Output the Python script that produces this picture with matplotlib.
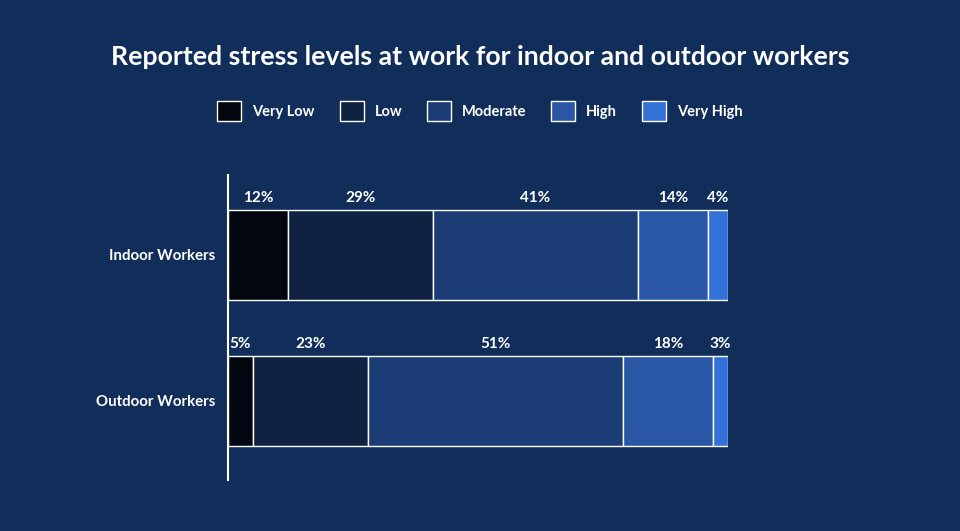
import matplotlib.pyplot as plt
from matplotlib.patches import Patch

# data
groups = ["Indoor Workers", "Outdoor Workers"]
levels = ["Very Low", "Low", "Moderate", "High", "Very High"]
indoor = [12, 29, 41, 14, 4]
outdoor = [5, 23, 51, 18, 3]
colors = ["#02060f", "#0f2242", "#1b3c74", "#2957a6", "#3271d8"]
bg = "#112e5b"

plt.rcParams["font.family"] = ["Lato", "DejaVu Sans"]

fig = plt.figure(figsize=(9.6, 5.31), dpi=100, facecolor=bg)
ax = fig.add_axes([228 / 960, 1 - 480 / 531, 500 / 960, 305 / 531])
ax.set_facecolor(bg)

ypos = [1, 0]
values = [indoor, outdoor]
for y, vals in zip(ypos, values):
    left = 0
    for v, c in zip(vals, colors):
        ax.barh(y, v, left=left, height=90 / 146, color=c, edgecolor="white", linewidth=1)
        ax.text(left + v / 2, y + 0.39, f"{v}%", ha="center", va="center",
                color="white", fontsize=11, fontweight="bold")
        left += v

ax.set_xlim(0, 100)
ax.set_ylim(-79 / 146, 1 + 80 / 146)
ax.set_yticks(ypos)
ax.set_yticklabels(groups, color="white", fontsize=10.8, fontweight="bold")
ax.tick_params(axis="y", length=0, pad=9)
ax.set_xticks([])
for s in ["top", "right", "bottom"]:
    ax.spines[s].set_visible(False)
ax.spines["left"].set_color("white")
ax.spines["left"].set_linewidth(1.5)

fig.text(0.5, 1 - 57 / 531, "Reported stress levels at work for indoor and outdoor workers",
         ha="center", va="center", color="white", fontsize=19.2, fontweight="bold")

handles = [Patch(facecolor=c, edgecolor="white", linewidth=1) for c in colors]
leg = fig.legend(handles, levels, loc="center", bbox_to_anchor=(0.5, 1 - 111 / 531),
                 ncol=5, frameon=False, fontsize=10.5, handlelength=1.65, handleheight=1.65,
                 columnspacing=1.7, handletextpad=0.75)
for t in leg.get_texts():
    t.set_color("white")
    t.set_fontweight("bold")

fig.savefig("out.png", dpi=100, facecolor=bg)
